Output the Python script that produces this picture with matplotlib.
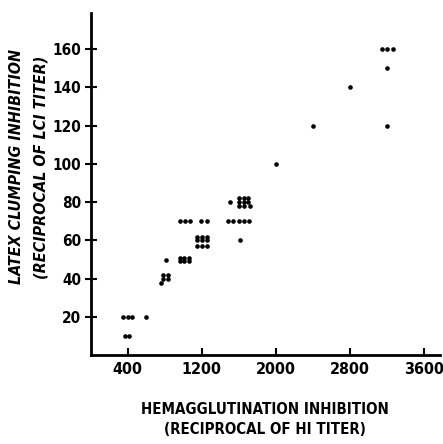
# Latex clumping inhibition vs hemagglutination inhibition titers

import matplotlib.pyplot as plt

# Reciprocal HI titer (x) and reciprocal LCI titer (y)
hi_titer = [350, 400, 450, 600, 370, 410,
            760, 780, 830, 780, 830, 810,
            960, 1010, 1060, 960, 1010, 1060,
            960, 1020, 1075, 1190, 1250,
            1150, 1200, 1260, 1150, 1200, 1260, 1150, 1200, 1260,
            1480, 1535, 1600, 1655, 1710, 1610,
            1505, 1600, 1650, 1700, 1600, 1650, 1700, 1600, 1650, 1720,
            2000, 2400, 3200, 2800, 3200, 3150, 3200, 3260]
lci_titer = [20, 20, 20, 20, 10, 10,
             38, 40, 40, 42, 42, 50,
             51, 51, 51, 49, 49, 49,
             70, 70, 70, 70, 70,
             62, 62, 62, 60, 60, 60, 57, 57, 57,
             70, 70, 70, 70, 70, 60,
             80, 82, 82, 82, 80, 80, 80, 78, 78, 78,
             100, 120, 120, 140, 150, 160, 160, 160]

x_ticks = [400, 1200, 2000, 2800, 3600]
y_ticks = [20, 40, 60, 80, 100, 120, 140, 160]

plt.rcParams["font.family"] = ["DejaVu Sans"]
plt.rcParams["font.weight"] = "bold"
plt.rcParams["font.stretch"] = "condensed"

fig = plt.figure(figsize=(4.43, 4.44), dpi=100)
ax = fig.add_axes([0.205, 0.2, 0.788, 0.771])

ax.scatter(hi_titer, lci_titer, s=11, color="black", linewidths=0)

ax.set_xlim(0, 3770)
ax.set_ylim(0, 179)
ax.set_xticks(x_ticks)
ax.set_yticks(y_ticks)
ax.spines["top"].set_visible(False)
ax.spines["right"].set_visible(False)
ax.spines["left"].set_linewidth(2)
ax.spines["bottom"].set_linewidth(2)
ax.tick_params(axis="x", direction="in", length=5, width=1.5, labelsize=11.5, pad=5)
ax.tick_params(axis="y", direction="inout", length=8, width=1.5, labelsize=11, pad=3)
for lab in ax.get_xticklabels() + ax.get_yticklabels():
    lab.set_fontweight("bold")

ax.set_xlabel("HEMAGGLUTINATION INHIBITION\n(RECIPROCAL OF HI TITER)",
              fontsize=10.8, fontweight="bold", labelpad=18, linespacing=1.4)
ax.set_ylabel("LATEX CLUMPING INHIBITION\n(RECIPROCAL OF LCI TITER)",
              fontsize=11.5, fontweight="bold", style="italic",
              linespacing=1.8)
ax.yaxis.set_label_coords(-0.12, 0.55)

fig.savefig("out.png", dpi=100)
